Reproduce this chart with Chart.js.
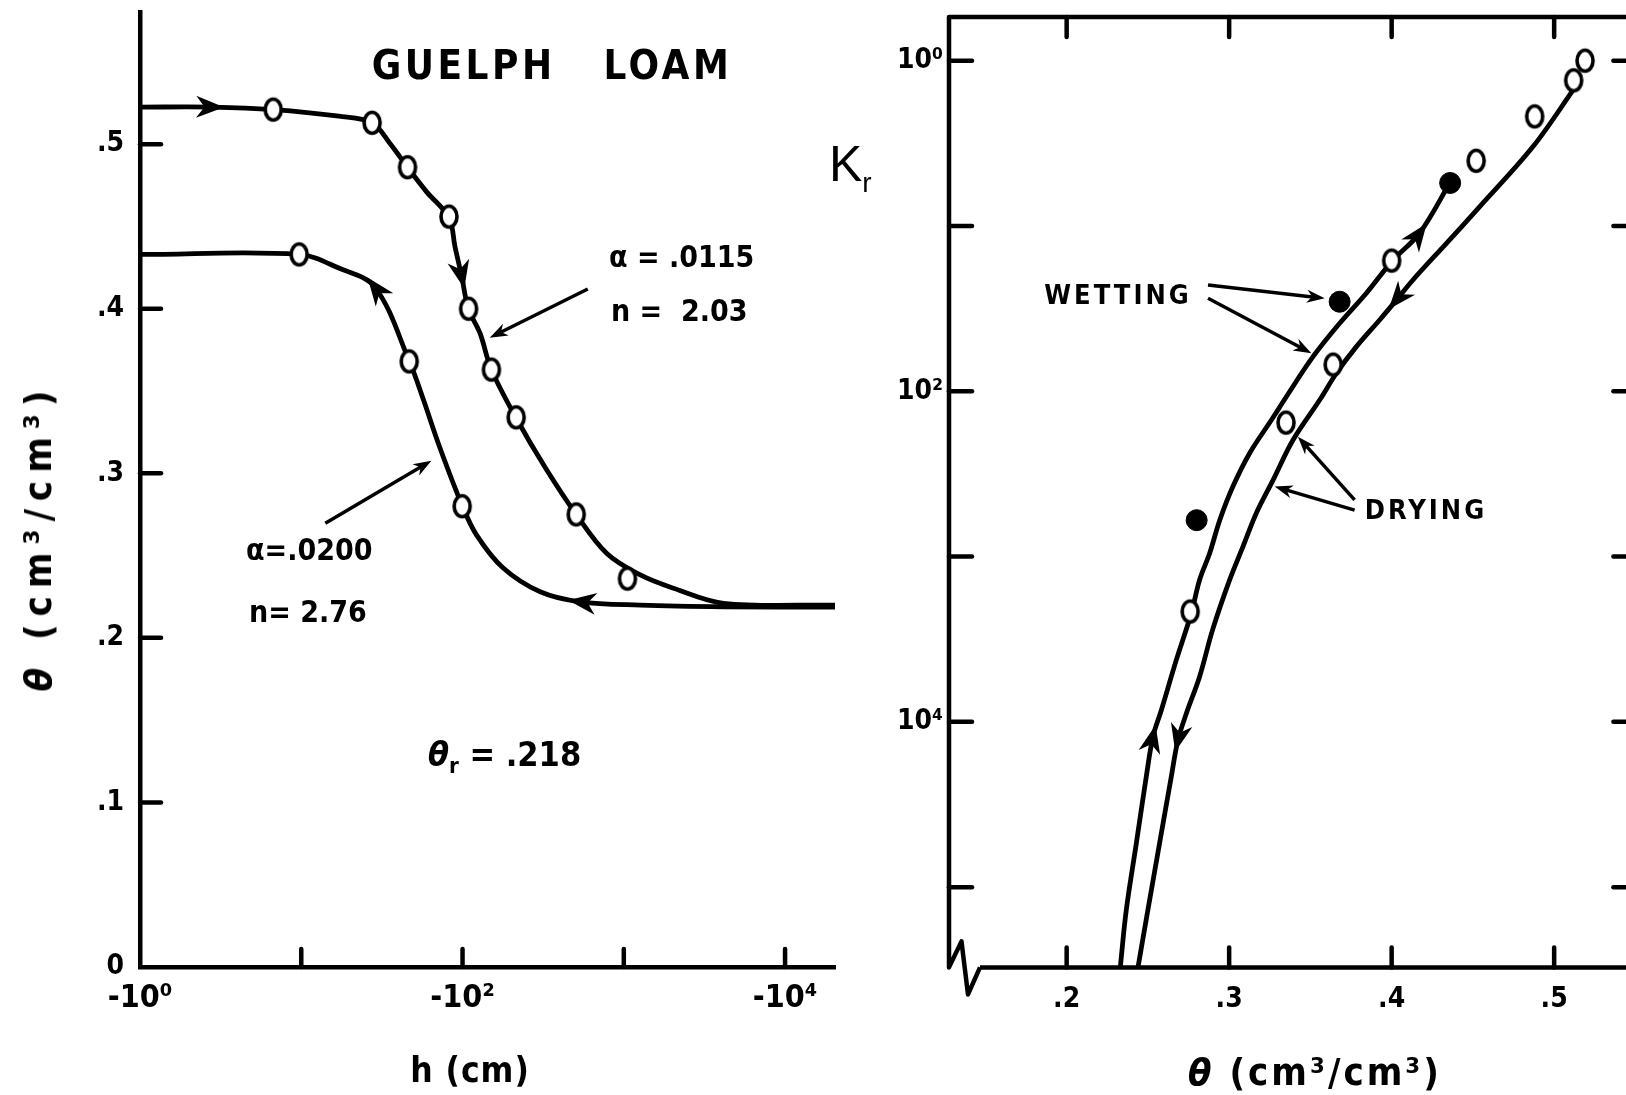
<!DOCTYPE html>
<html>
<head>
<meta charset="utf-8">
<script src="https://cdn.jsdelivr.net/npm/chart.js@4.4.1/dist/chart.umd.min.js"></script>
<style>
  html, body { margin: 0; padding: 0; background: #fff; overflow: hidden; }
  #page { position: relative; width: 1626px; height: 1095px; overflow: hidden; background: #fff; }
  canvas { position: absolute; top: 0; }
  #leftChart { left: 0; }
  #rightChart { left: 860px; }
  .lbl { position: absolute; white-space: nowrap; color: #000; line-height: 1;
         font-family: 'DejaVu Sans Condensed', 'DejaVu Sans', sans-serif; font-weight: bold;
         transform: translate(0, -50%); }
  .c { transform: translate(-50%, -50%); }
</style>
</head>
<body>
<div id="page">
  <canvas id="leftChart" width="860" height="1095"></canvas>
  <canvas id="rightChart" width="806" height="1095"></canvas>

  <!-- left panel text -->
  <div class="lbl c" style="left:552px;top:65px;font-size:40px;letter-spacing:3.5px">GUELPH&nbsp;&nbsp;&nbsp;LOAM</div>
  <div class="lbl" style="left:609px;top:257px;font-size:30px">α = .0115</div>
  <div class="lbl" style="left:611px;top:311px;font-size:30px">n = &nbsp;2.03</div>
  <div class="lbl" style="left:246px;top:550px;font-size:30px">α=.0200</div>
  <div class="lbl" style="left:249px;top:612px;font-size:30px">n= 2.76</div>
  <div class="lbl" style="left:428px;top:757px;font-size:34px"><i>θ</i><sub style="font-size:22px">r</sub> = .218</div>
  <div class="lbl" style="left:38px;top:537px;font-size:38px;letter-spacing:8px;transform:translate(-50%,-50%) rotate(-90deg)"><i>θ</i> (cm³/cm³)</div>
  <div class="lbl c" style="left:470px;top:1070px;font-size:35px;letter-spacing:1px">h (cm)</div>

  <!-- right panel text -->
  <div class="lbl" style="left:829px;top:168px;font-size:50px;font-weight:normal;font-family:'Liberation Sans',sans-serif">K<sub style="font-size:28px">r</sub></div>
  <div class="lbl c" style="left:1118px;top:294px;font-size:27px;letter-spacing:3px">WETTING</div>
  <div class="lbl c" style="left:1426px;top:509px;font-size:27px;letter-spacing:3px">DRYING</div>
  <div class="lbl c" style="left:1315px;top:1072px;font-size:38px;letter-spacing:3px"><i>θ</i> (cm³/cm³)</div>
</div>

<script>
// ---- left panel: retention curves, |h| in cm (log axis) vs theta ----
const hTicks = [1, 10, 100, 1000, 10000];
const hTickLabels = ['-10⁰', '', '-10²', '', '-10⁴'];
const thetaTicks = [0, 0.1, 0.2, 0.3, 0.4, 0.5];
const thetaTickLabels = ['0', '.1', '.2', '.3', '.4', '.5'];

// drying branch (upper curve)
const dryH     = [1, 2.8, 6.7, 17.1, 27.5, 35.5, 45.4, 59.9, 82.4, 89.8, 98.9, 108.6, 128.5, 151, 215, 327, 507, 785, 1265, 2036, 4159, 20400];
const dryTheta = [0.5225, 0.5225, 0.521, 0.517, 0.513, 0.5004, 0.4862, 0.471, 0.4553, 0.4376, 0.4194, 0.4002, 0.385, 0.363, 0.3336, 0.3032, 0.275, 0.2513, 0.2382, 0.2301, 0.221, 0.2199];
const dryPtsH     = [6.7, 27.5, 45.6, 82.4, 109, 151, 215, 507, 1054];
const dryPtsTheta = [0.521, 0.513, 0.486, 0.456, 0.400, 0.363, 0.334, 0.275, 0.236];

// wetting branch (lower curve)
const wetH     = [1, 9.7, 17.1, 28.6, 46.7, 57.3, 71.9, 99.5, 122, 178, 303, 536, 1265, 4159, 20400];
const wetTheta = [0.433, 0.433, 0.4247, 0.4131, 0.3683, 0.3445, 0.3163, 0.2804, 0.2626, 0.2426, 0.228, 0.2219, 0.2199, 0.2189, 0.2187];
const wetPtsH     = [9.7, 46.7, 99.5];
const wetPtsTheta = [0.433, 0.368, 0.280];

// ---- right panel: relative conductivity Kr vs theta ----
const krTicks = [1, 0.1, 0.01, 0.001, 0.0001, 0.00001];
const krTickLabels = ['10⁰', '', '10²', '', '10⁴', ''];
const thRTicks = [0.2, 0.3, 0.4, 0.5];
const thRTickLabels = ['.2', '.3', '.4', '.5'];

const wetKTheta = [0.2330, 0.2367, 0.2429, 0.2490, 0.2531, 0.2583, 0.2675, 0.2767, 0.2818, 0.2880, 0.2942, 0.3023, 0.3126, 0.3260, 0.3352, 0.3516, 0.3680, 0.3844, 0.4008, 0.4172, 0.4357];
const wetKr     = [3.27e-6, 7.28e-6, 1.845e-5, 4.66e-5, 8.13e-5, 1.18e-4, 2.37e-4, 4.54e-4, 7.22e-4, 1.047e-3, 1.66e-3, 2.65e-3, 4.22e-3, 6.70e-3, 9.27e-3, 0.01618, 0.02576, 0.0392, 0.0622, 0.0904, 0.1811];

const dryKTheta = [0.2439, 0.2500, 0.2572, 0.2644, 0.2685, 0.2737, 0.2818, 0.2898, 0.3003, 0.3085, 0.3167, 0.3270, 0.3393, 0.3557, 0.3660, 0.3783, 0.3926, 0.4029, 0.4131, 0.4337, 0.4542, 0.4870, 0.5126];
const dryKr     = [3.27e-6, 7.28e-6, 1.845e-5, 4.66e-5, 7.76e-5, 1.127e-4, 1.875e-4, 3.60e-4, 7.22e-4, 1.148e-3, 1.83e-3, 2.90e-3, 5.07e-3, 8.85e-3, 0.01285, 0.01862, 0.0270, 0.0356, 0.0471, 0.0785, 0.1309, 0.302, 0.684];

// measured points
const openTheta = [0.519, 0.512, 0.488, 0.452, 0.400, 0.364, 0.335, 0.276];
const openKr    = [1.0, 0.76, 0.46, 0.248, 0.0617, 0.0145, 0.00646, 0.000465];
const fillTheta = [0.436, 0.368, 0.280];
const fillKr    = [0.182, 0.0348, 0.00166];

const FONT = "'DejaVu Sans Condensed', 'DejaVu Sans', sans-serif";

function xy(xs, ys) { return xs.map((x, i) => ({ x: x, y: ys[i] })); }

// open "o" marker, slightly taller than wide like the hand lettering
function openMarker() {
  const c = document.createElement('canvas');
  c.width = 24; c.height = 28;
  const g = c.getContext('2d');
  g.beginPath();
  g.ellipse(12, 14, 8, 10.5, 0, 0, Math.PI * 2);
  g.fillStyle = '#fff'; g.fill();
  g.lineWidth = 3.6; g.strokeStyle = '#000'; g.stroke();
  return c;
}
const ring = openMarker();

function arrowHead(ctx, tx, ty, ux, uy, L, W) {
  const nx = -uy, ny = ux;
  ctx.beginPath();
  ctx.moveTo(tx, ty);
  ctx.lineTo(tx - ux * L + nx * W, ty - uy * L + ny * W);
  ctx.lineTo(tx - ux * L * 0.7, ty - uy * L * 0.7);
  ctx.lineTo(tx - ux * L - nx * W, ty - uy * L - ny * W);
  ctx.closePath();
  ctx.fill();
}

// tick marks drawn inward from the axes
const inwardTicks = {
  id: 'inwardTicks',
  afterDraw(chart, args, opts) {
    const ctx = chart.ctx, a = chart.chartArea;
    ctx.save();
    ctx.strokeStyle = '#000'; ctx.lineWidth = 4.5; ctx.lineCap = 'round';
    (opts.marks || []).forEach(m => {
      const scale = chart.scales[m.axis];
      m.values.forEach(v => {
        const p = scale.getPixelForValue(v);
        ctx.beginPath();
        if (m.side === 'left') { ctx.moveTo(a.left, p); ctx.lineTo(a.left + m.len, p); }
        else if (m.side === 'right') { ctx.moveTo(a.right, p); ctx.lineTo(a.right - m.len, p); }
        else if (m.side === 'bottom') { ctx.moveTo(p, a.bottom); ctx.lineTo(p, a.bottom - m.len); }
        else { ctx.moveTo(p, a.top); ctx.lineTo(p, a.top + m.len); }
        ctx.stroke();
      });
    });
    ctx.restore();
  }
};

// arrowheads on the curves + pointer arrows for the labels
const arrows = {
  id: 'arrows',
  afterDatasetsDraw(chart, args, opts) {
    const ctx = chart.ctx;
    ctx.save();
    ctx.fillStyle = '#000'; ctx.strokeStyle = '#000';
    (opts.heads || []).forEach(h => {
      const pts = chart.getDatasetMeta(h.ds).data;
      const p = pts[h.i], a = pts[h.i - 1], b = pts[h.i + 1];
      let dx = (b.x - a.x) * h.dir, dy = (b.y - a.y) * h.dir;
      const len = Math.hypot(dx, dy); dx /= len; dy /= len;
      arrowHead(ctx, p.x + dx * 12, p.y + dy * 12, dx, dy, 28, 11);
    });
    (opts.pointers || []).forEach(pt => {
      const xs = chart.scales.x, ys = chart.scales.y;
      const x0 = xs.getPixelForValue(pt.from[0]), y0 = ys.getPixelForValue(pt.from[1]);
      const x1 = xs.getPixelForValue(pt.to[0]), y1 = ys.getPixelForValue(pt.to[1]);
      let ux = x1 - x0, uy = y1 - y0;
      const len = Math.hypot(ux, uy); ux /= len; uy /= len;
      ctx.lineWidth = 3.5;
      ctx.beginPath(); ctx.moveTo(x0, y0); ctx.lineTo(x1 - ux * 10, y1 - uy * 10); ctx.stroke();
      arrowHead(ctx, x1, y1, ux, uy, 18, 6.5);
    });
    ctx.restore();
  }
};

// boxed frame with an axis break at the lower-left corner (right panel)
const breakFrame = {
  id: 'breakFrame',
  afterDraw(chart) {
    const ctx = chart.ctx, a = chart.chartArea;
    ctx.save();
    ctx.strokeStyle = '#000'; ctx.lineWidth = 4.5; ctx.lineJoin = 'round';
    ctx.beginPath();
    ctx.moveTo(a.left + 31, a.bottom);
    ctx.lineTo(a.right, a.bottom);
    ctx.lineTo(a.right, a.top);
    ctx.lineTo(a.left, a.top);
    ctx.lineTo(a.left, a.bottom);
    ctx.lineTo(a.left + 12.5, a.bottom - 26);
    ctx.lineTo(a.left + 19, a.bottom + 27);
    ctx.lineTo(a.left + 31, a.bottom);
    ctx.stroke();
    ctx.restore();
  }
};

function fixedAxis(size, horizontal) {
  return function (scale) {
    if (horizontal) scale.height = size; else scale.width = size;
    scale.paddingLeft = 0; scale.paddingRight = 0;
    scale.paddingTop = 0; scale.paddingBottom = 0;
  };
}

const tickFont = { family: FONT, size: 28, weight: 'bold' };
const curveStyle = { showLine: true, pointRadius: 0, borderColor: '#000', borderWidth: 4.8, tension: 0.35 };

// ---------- left chart ----------
new Chart(document.getElementById('leftChart'), {
  type: 'scatter',
  data: {
    datasets: [
      { label: 'drying pts', data: xy(dryPtsH, dryPtsTheta), pointStyle: ring, pointRadius: 10 },
      { label: 'wetting pts', data: xy(wetPtsH, wetPtsTheta), pointStyle: ring, pointRadius: 10 },
      Object.assign({ label: 'drying', data: xy(dryH, dryTheta) }, curveStyle),
      Object.assign({ label: 'wetting', data: xy(wetH, wetTheta) }, curveStyle)
    ]
  },
  options: {
    responsive: false, animation: false, devicePixelRatio: 1,
    layout: { padding: { left: 0, right: 25, top: 12.5, bottom: 0 } },
    scales: {
      x: {
        type: 'logarithmic', min: 1, max: 20400,
        afterBuildTicks: s => { s.ticks = hTicks.map(v => ({ value: v })); },
        afterFit: fixedAxis(128, true),
        grid: { display: false, drawTicks: false },
        border: { display: true, color: '#000', width: 4.5 },
        ticks: { autoSkip: false, maxRotation: 0, padding: 12, color: '#000',
                 font: { family: FONT, size: 32, weight: 'bold' },
                 callback: (v, i) => hTickLabels[i] }
      },
      y: {
        min: 0, max: 0.58,
        afterBuildTicks: s => { s.ticks = thetaTicks.map(v => ({ value: v })); },
        afterFit: fixedAxis(140, false),
        grid: { display: false, drawTicks: false },
        border: { display: true, color: '#000', width: 4.5 },
        ticks: { autoSkip: false, padding: 16, color: '#000', font: tickFont,
                 callback: (v, i) => thetaTickLabels[i] }
      }
    },
    plugins: {
      legend: { display: false }, tooltip: { enabled: false },
      inwardTicks: { marks: [
        { axis: 'y', side: 'left', len: 21, values: [0.1, 0.2, 0.3, 0.4, 0.5] },
        { axis: 'x', side: 'bottom', len: 18, values: [10, 100, 1000, 10000] }
      ] },
      arrows: {
        heads: [ { ds: 2, i: 1, dir: 1 }, { ds: 2, i: 10, dir: 1 },
                 { ds: 3, i: 3, dir: -1 }, { ds: 3, i: 11, dir: -1 } ],
        pointers: [ { from: [598, 0.412], to: [147.5, 0.3824] },
                    { from: [14.1, 0.2696], to: [64.1, 0.3076] } ]
      }
    }
  },
  plugins: [inwardTicks, arrows]
});

// ---------- right chart ----------
new Chart(document.getElementById('rightChart'), {
  type: 'scatter',
  data: {
    datasets: [
      { label: 'open', data: xy(openTheta, openKr), pointStyle: ring, pointRadius: 10 },
      { label: 'filled', data: xy(fillTheta, fillKr), pointStyle: 'circle', pointRadius: 10.5,
        backgroundColor: '#000', borderColor: '#000', borderWidth: 1 },
      Object.assign({ label: 'wetting', data: xy(wetKTheta, wetKr) }, curveStyle),
      Object.assign({ label: 'drying', data: xy(dryKTheta, dryKr) }, curveStyle)
    ]
  },
  options: {
    responsive: false, animation: false, devicePixelRatio: 1,
    layout: { padding: { left: 0, right: 30.6, top: 17, bottom: 0 } },
    scales: {
      x: {
        min: 0.1276, max: 0.55,
        afterBuildTicks: s => { s.ticks = thRTicks.map(v => ({ value: v })); },
        afterFit: fixedAxis(127.6, true),
        grid: { display: false, drawTicks: false },
        border: { display: false },
        ticks: { autoSkip: false, maxRotation: 0, padding: 16, color: '#000', font: tickFont,
                 callback: (v, i) => thRTickLabels[i] }
      },
      y: {
        type: 'logarithmic', min: 3.27e-6, max: 1.837,
        afterBuildTicks: s => { s.ticks = krTicks.map(v => ({ value: v })); },
        afterFit: fixedAxis(89, false),
        grid: { display: false, drawTicks: false },
        border: { display: false },
        ticks: { autoSkip: false, padding: 6, color: '#000', font: tickFont,
                 callback: (v, i) => krTickLabels[i] }
      }
    },
    plugins: {
      legend: { display: false }, tooltip: { enabled: false },
      inwardTicks: { marks: [
        { axis: 'y', side: 'left', len: 23, values: krTicks },
        { axis: 'y', side: 'right', len: 22, values: krTicks },
        { axis: 'x', side: 'bottom', len: 20, values: thRTicks },
        { axis: 'x', side: 'top', len: 20, values: thRTicks }
      ] },
      arrows: {
        heads: [ { ds: 2, i: 4, dir: 1 }, { ds: 2, i: 19, dir: 1 },
                 { ds: 3, i: 4, dir: -1 }, { ds: 3, i: 17, dir: -1 } ],
        pointers: [ { from: [0.2870, 0.0440], to: [0.3588, 0.0365] },
                    { from: [0.2870, 0.0365], to: [0.3506, 0.0170] },
                    { from: [0.3772, 0.00220], to: [0.3423, 0.00531] },
                    { from: [0.3772, 0.00191], to: [0.3280, 0.00265] } ]
      }
    }
  },
  plugins: [inwardTicks, arrows, breakFrame]
});
</script>
</body>
</html>
